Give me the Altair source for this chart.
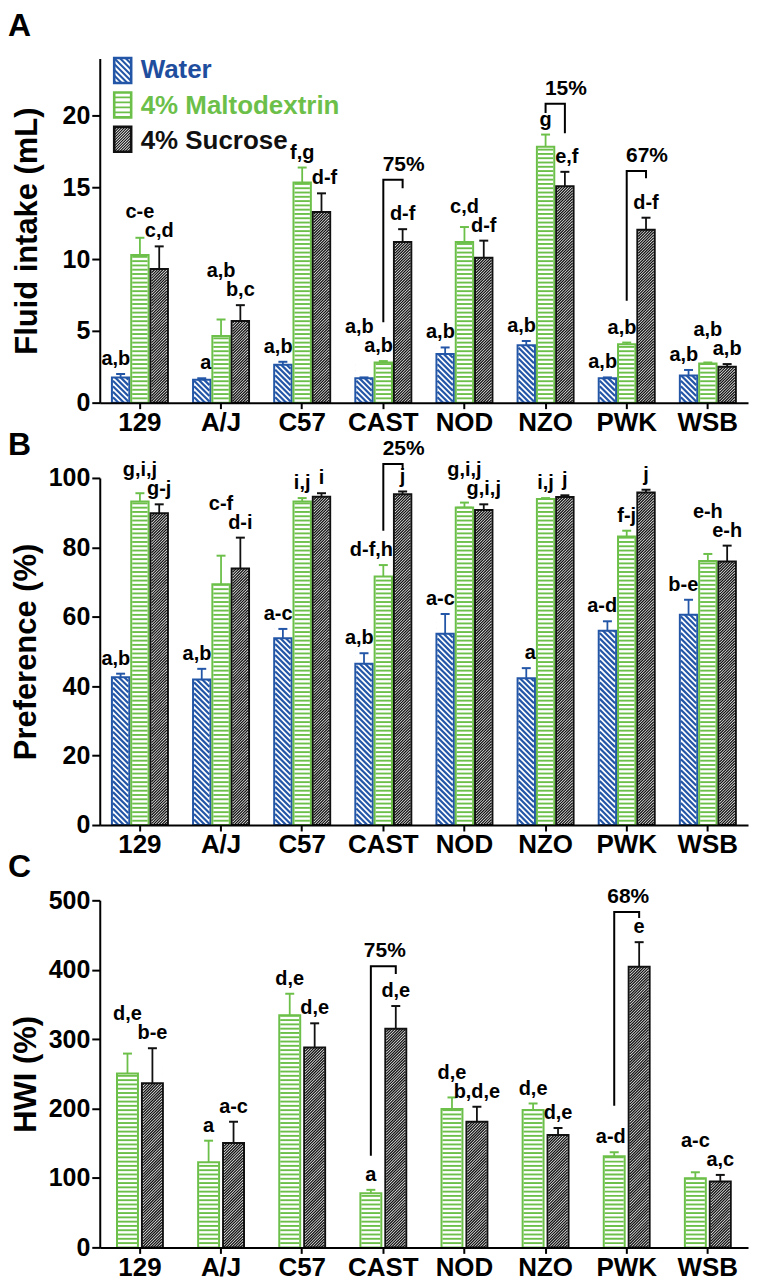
import altair as alt
import pandas as pd

# ---------------- data ----------------
STRAINS = ["129", "A/J", "C57", "CAST", "NOD", "NZO", "PWK", "WSB"]
SERIES3 = ["Water", "4% Maltodextrin", "4% Sucrose"]
SERIES2 = ["4% Maltodextrin", "4% Sucrose"]

# Panel A: fluid intake (mL)
intake_water = [1.75, 1.6, 2.65, 1.7, 3.4, 4.0, 1.7, 1.9]
intake_water_err = [0.25, 0.1, 0.2, 0.06, 0.45, 0.3, 0.06, 0.38]
intake_malt = [10.3, 4.65, 15.35, 2.8, 11.2, 17.85, 4.07, 2.73]
intake_malt_err = [1.2, 1.15, 1.05, 0.1, 1.05, 0.85, 0.12, 0.07]
intake_suc = [9.33, 5.7, 13.3, 11.2, 10.1, 15.1, 12.06, 2.5]
intake_suc_err = [1.57, 1.1, 1.3, 0.9, 1.2, 1.0, 0.84, 0.19]
intake_lab_water = ["a,b", "a", "a,b", "a,b", "a,b", "a,b", "a,b", "a,b"]
intake_lab_malt = ["c-e", "a,b", "f,g", "a,b", "c,d", "g", "a,b", "a,b"]
intake_lab_suc = ["c,d", "b,c", "d-f", "d-f", "d-f", "e,f", "d-f", "a,b"]
intake_brackets = [("CAST", 5.6, 15.55, 14.95, "75%"),
                   ("NZO", 20.2, 20.85, 18.8, "15%"),
                   ("PWK", 7.1, 16.15, 15.65, "67%")]

# Panel B: preference (%)
pref_water = [42.6, 41.9, 53.8, 46.5, 55.1, 42.3, 56.0, 60.6]
pref_water_err = [1.0, 3.1, 2.7, 3.0, 5.7, 2.9, 2.7, 4.3]
pref_malt = [93.2, 69.4, 93.2, 71.6, 91.5, 93.9, 83.1, 76.1]
pref_malt_err = [2.4, 8.2, 1.0, 3.3, 1.4, 0.3, 1.7, 2.0]
pref_suc = [89.8, 73.9, 94.6, 95.3, 90.8, 94.5, 95.8, 75.9]
pref_suc_err = [2.6, 8.9, 1.0, 0.8, 1.6, 0.5, 0.8, 4.6]
pref_lab_water = ["a,b", "a,b", "a-c", "a,b", "a-c", "a", "a-d", "b-e"]
pref_lab_malt = ["g,i,j", "c-f", "i,j", "d-f,h", "g,i,j", "i,j", "f-j", "e-h"]
pref_lab_suc = ["g-j", "d-i", "i", "j", "g,i,j", "j", "j", "e-h"]
pref_brackets = [("CAST", 84.8, 104.0, 102.6, "25%")]

# Panel C: HWI (%)
hwi_malt = [250.4, 122.6, 334.3, 78.0, 199.2, 197.8, 131.2, 99.6]
hwi_malt_err = [28.8, 31.1, 31.1, 4.9, 16.8, 9.5, 5.8, 8.6]
hwi_suc = [236.6, 150.4, 287.8, 315.1, 181.0, 161.9, 404.2, 94.8]
hwi_suc_err = [50.3, 30.6, 35.0, 32.6, 21.6, 10.1, 35.5, 9.6]
hwi_lab_malt = ["d,e", "a", "d,e", "a", "d,e", "d,e", "a-d", "a-c"]
hwi_lab_suc = ["b-e", "a-c", "d,e", "d,e", "b,d,e", "d,e", "e", "a,c"]
hwi_brackets = [("CAST", 132.0, 405.0, 394.0, "75%"),
                ("PWK", 204.0, 483.0, 474.6, "68%")]

LEGEND_LABELS = ["Water", "4% Maltodextrin", "4% Sucrose"]

# ---------------- style ----------------
BLUE = "#2356a6"
BLUE_TXT = "#1f4e9e"
GREEN = "#6cc04a"
BLACK = "#111111"
COLORS = {"Water": BLUE, "4% Maltodextrin": GREEN, "4% Sucrose": BLACK}
FONT = "Liberation Sans"
PLOT_W = 650
FS_LAB = 20
GAP, STEP = 9, 19

CW = {'a': .556, 'b': .611, 'c': .556, 'd': .611, 'e': .556, 'f': .333, 'g': .611,
      'h': .611, 'i': .278, 'j': .278, ',': .278, '-': .333}


def text_w(s, fs):
    return sum(CW.get(ch, .6) for ch in s) * fs


def band_geometry(n, x_pi, x_po, pi, po):
    step = PLOT_W / (len(STRAINS) - x_pi + 2 * x_po)
    bw = step * (1 - x_pi)
    sub = bw / (n - pi + 2 * po)
    return sub, sub * (1 - pi)


def hatch_lines(hw, hh, spacing, slope):
    parts = []
    c = -(hw + hh)
    while c <= hw + hh:
        if slope > 0:
            x1, x2 = max(-hw, -hh - c), min(hw, hh - c)
            if x2 - x1 > 0.08:
                parts.append(f"M{x1:.3f},{x1 + c:.3f}L{x2:.3f},{x2 + c:.3f}")
        else:
            x1, x2 = max(-hw, c - hh), min(hw, c + hh)
            if x2 - x1 > 0.08:
                parts.append(f"M{x1:.3f},{c - x1:.3f}L{x2:.3f},{c - x2:.3f}")
        c += spacing
    return "".join(parts)


def hlines(hw, ys):
    return "".join(f"M{-hw:.3f},{y:.3f}L{hw:.3f},{y:.3f}" for y in ys)


def panel(letter, ytitle, ymax, H, ticks, title_pad, series_list, values, errs,
          letters, brackets, pct_dx, x_pi, x_po, off_pi, legend=False):
    ppu = H / ymax
    n = len(series_list)
    sub, w = band_geometry(n, x_pi, x_po, off_pi, 0.0)
    hw_px = w - 2.0  # hatch segment width (kept inside the outline)

    # label layout (avoid overlaps)
    lab_y, anchor = {}, {}
    for j, st in enumerate(STRAINS):
        prev_pos = prev_ext = None
        for k in range(n - 1, -1, -1):
            s = series_list[k]
            p = (values[k][j] + errs[k][j]) * ppu + GAP
            c = (k - (n - 1) / 2) * sub
            tw = text_w(letters[k][j], FS_LAB)
            if s == "Water":
                a = "right"
            else:
                a = "center"
                if k < n - 1 and tw / 2 > sub - w / 2 and values[k + 1][j] * ppu > p - 4:
                    a = "right"
                elif k > 0 and tw / 2 > sub - w / 2 and values[k - 1][j] * ppu > p - 4:
                    a = "left"
            if a == "right":
                x0, x1 = c + w / 2 + 1 - tw, c + w / 2 + 1
            elif a == "left":
                x0, x1 = c - w / 2 - 1, c - w / 2 - 1 + tw
            else:
                x0, x1 = c - tw / 2, c + tw / 2
            if prev_pos is not None:
                if x1 > prev_ext[0] + 1 and x0 < prev_ext[1] - 1 and abs(p - prev_pos) < STEP:
                    p = prev_pos + STEP
            lab_y[(st, s)] = p / ppu
            anchor[(st, s)] = a
            prev_pos, prev_ext = p, (x0, x1)

    rows = []
    for k, s in enumerate(series_list):
        for j, st in enumerate(STRAINS):
            rows.append(dict(strain=st, series=s, value=values[k][j], err=errs[k][j],
                             etop=values[k][j] + errs[k][j], label=letters[k][j],
                             lab_y=lab_y[(st, s)], anchor=anchor[(st, s)]))
    df = pd.DataFrame(rows)

    xaxis = alt.Axis(title=None, labelAngle=0, tickSize=6, tickWidth=2, domainWidth=2,
                     domainColor="black", tickColor="black", labelFontSize=26,
                     labelFontWeight="bold", labelColor="black", labelPadding=1,
                     grid=False, zindex=1, labelFont=FONT)
    yaxis = alt.Axis(title=ytitle, values=ticks, tickSize=8, tickWidth=2, domainWidth=2,
                     domainColor="black", tickColor="black", labelFontSize=25,
                     labelFontWeight="bold", labelColor="black", labelPadding=2,
                     titleFontSize=31, titleFontWeight="bold", titleColor="black",
                     titlePadding=title_pad, grid=False, zindex=1, labelFont=FONT,
                     titleFont=FONT)
    xs = alt.Scale(type="band", domain=STRAINS, paddingInner=x_pi, paddingOuter=x_po)
    xos = alt.Scale(type="band", domain=series_list, paddingInner=off_pi, paddingOuter=0)
    ys = alt.Scale(domain=[0, ymax], nice=False, zero=True)
    cs = alt.Scale(domain=SERIES3, range=[COLORS[s] for s in SERIES3])

    def X():
        return alt.X("strain:N", scale=xs, axis=xaxis, sort=STRAINS)

    def XO(field="series:N"):
        return alt.XOffset(field, scale=xos, sort=series_list)

    def Y(field):
        return alt.Y(field, type="quantitative", scale=ys, axis=yaxis)

    base = alt.Chart(df)
    half = (hw_px / 2) / ppu
    layers = []

    # white bar bodies
    layers.append(
        base.mark_bar(color="white", opacity=1)
        .encode(x=X(), xOffset=XO(), y=Y("value"))
    )
    # hatching
    if "Water" in series_list:
        layers.append(
            base.transform_filter(alt.datum.series == "Water")
            .transform_calculate(hy=f"sequence(-{half}, datum.value + {half}, {5.5 / ppu})")
            .transform_flatten(["hy"])
            .mark_point(shape="M-1,-1L1,1", size=hw_px * hw_px, filled=False, color=BLUE,
                        strokeWidth=2.2, opacity=1, clip=True)
            .encode(x=X(), xOffset=XO(), y=Y("hy"))
        )
    layers.append(
        base.transform_filter(alt.datum.series == "4% Sucrose")
        .transform_calculate(hy=f"sequence(-{half}, datum.value + {half}, {2.8 / ppu})")
        .transform_flatten(["hy"])
        .mark_point(shape="M-1,1L1,-1", size=hw_px * hw_px, filled=False, color=BLACK,
                    strokeWidth=1.3, opacity=1, clip=True)
        .encode(x=X(), xOffset=XO(), y=Y("hy"))
    )
    layers.append(
        base.transform_filter(alt.datum.series == "4% Maltodextrin")
        .transform_calculate(hy=f"sequence({4.3 / ppu}, datum.value, {4.3 / ppu})")
        .transform_flatten(["hy"])
        .mark_tick(orient="horizontal", thickness=1.9, size=w - 2, color=GREEN, opacity=1)
        .encode(x=X(), xOffset=XO(), y=Y("hy"))
    )
    # white masks above hatched bars
    layers.append(
        base.transform_filter(alt.datum.series != "4% Maltodextrin")
        .transform_calculate(mtop=f"datum.value + {(hw_px + 3) / ppu}")
        .mark_bar(color="white", opacity=1)
        .encode(x=X(), xOffset=XO(), y=Y("value"), y2="mtop:Q")
    )
    # outlines
    layers.append(
        base.mark_bar(filled=False, strokeWidth=2, opacity=1)
        .encode(x=X(), xOffset=XO(), y=Y("value"),
                color=alt.Color("series:N", scale=cs, legend=None))
    )
    # error bars
    layers.append(
        base.mark_rule(strokeWidth=1.8)
        .encode(x=X(), xOffset=XO(), y=Y("value"), y2="etop:Q",
                color=alt.Color("series:N", scale=cs, legend=None))
    )
    layers.append(
        base.mark_tick(orient="horizontal", thickness=2, size=9, opacity=1)
        .encode(x=X(), xOffset=XO(), y=Y("etop"),
                color=alt.Color("series:N", scale=cs, legend=None))
    )
    # letter labels
    for a, dx in (("right", w / 2 + 1), ("center", 0), ("left", -(w / 2 + 1))):
        layers.append(
            base.transform_filter(alt.datum.anchor == a)
            .mark_text(align=a, dx=dx, baseline="alphabetic", fontSize=FS_LAB,
                       fontWeight="bold", color="black", font=FONT)
            .encode(x=X(), xOffset=XO(), y=Y("lab_y"), text="label:N")
        )
    # brackets
    brows, prows = [], []
    for i, (st, lb, top, rb, pct) in enumerate(brackets):
        brows += [dict(bid=i, strain=st, series="4% Maltodextrin", by=lb, o=0),
                  dict(bid=i, strain=st, series="4% Maltodextrin", by=top, o=1),
                  dict(bid=i, strain=st, series="4% Sucrose", by=top, o=2),
                  dict(bid=i, strain=st, series="4% Sucrose", by=rb, o=3)]
        prows.append(dict(strain=st, series="4% Sucrose", by=top, pct=pct))
    layers.append(
        alt.Chart(pd.DataFrame(brows)).mark_line(color="black", strokeWidth=2)
        .encode(x=X(), xOffset=XO(), y=Y("by"), detail="bid:N", order="o:Q")
    )
    layers.append(
        alt.Chart(pd.DataFrame(prows))
        .mark_text(align="center", dx=pct_dx, dy=-9, baseline="alphabetic", fontSize=21,
                   fontWeight="bold", color="black", font=FONT)
        .encode(x=X(), xOffset=XO(), y=Y("by"), text="pct:N")
    )

    if legend:
        ldf = pd.DataFrame({"series": SERIES3, "label": LEGEND_LABELS})
        hw, hh = 0.68, 1.0
        rect = f"M{-hw},{-hh}L{hw},{-hh}L{hw},{hh}L{-hw},{hh}Z"
        inner = {
            "Water": (hatch_lines(hw, hh, 0.46, 1), 2.0),
            "4% Maltodextrin": (hlines(hw, [-0.6, -0.2, 0.2, 0.6]), 1.8),
            "4% Sucrose": (hatch_lines(hw, hh, 0.22, -1), 1.2),
        }
        txtcol = {"Water": BLUE_TXT, "4% Maltodextrin": GREEN, "4% Sucrose": BLACK}
        sw_y = [12, 46.5, 81]
        tx_y = [19, 56, 91]
        for i, s in enumerate(SERIES3):
            lc = alt.Chart(ldf).transform_filter(alt.datum.series == s)
            layers.append(lc.mark_point(shape=inner[s][0], size=625, filled=False,
                                        color=COLORS[s], strokeWidth=inner[s][1], opacity=1)
                          .encode(x=alt.value(23), y=alt.value(sw_y[i])))
            layers.append(lc.mark_point(shape=rect, size=625, filled=False,
                                        color=COLORS[s], strokeWidth=2.6, opacity=1)
                          .encode(x=alt.value(23), y=alt.value(sw_y[i])))
            layers.append(lc.mark_text(align="left", baseline="alphabetic", fontSize=26,
                                       fontWeight="bold", color=txtcol[s], font=FONT)
                          .encode(x=alt.value(41), y=alt.value(tx_y[i]), text="label:N"))

    # panel letter
    layers.append(
        alt.Chart(pd.DataFrame({"panel": [letter]}))
        .mark_text(align="left", baseline="alphabetic", fontSize=32, fontWeight="bold",
                   color="black", font=FONT)
        .encode(x=alt.value(-92), y=alt.value(-23), text="panel:N")
    )

    return alt.layer(*layers).properties(width=PLOT_W, height=H)


# x band paddings: same category centres in every panel
XA_PI, XA_PO = 0.31, 0.15
XC_PI, XC_PO = 0.4345, 0.2127

pA = panel("A", "Fluid intake (mL)", 24, 345, [0, 5, 10, 15, 20], 19, SERIES3,
           [intake_water, intake_malt, intake_suc],
           [intake_water_err, intake_malt_err, intake_suc_err],
           [intake_lab_water, intake_lab_malt, intake_lab_suc],
           intake_brackets, 1, XA_PI, XA_PO, 0.1, legend=True)
pB = panel("B", "Preference (%)", 100, 348, [0, 20, 40, 60, 80, 100], 6, SERIES3,
           [pref_water, pref_malt, pref_suc],
           [pref_water_err, pref_malt_err, pref_suc_err],
           [pref_lab_water, pref_lab_malt, pref_lab_suc],
           pref_brackets, 1, XA_PI, XA_PO, 0.1)
pC = panel("C", "HWI (%)", 500, 348, [0, 100, 200, 300, 400, 500], 6, SERIES2,
           [hwi_malt, hwi_suc], [hwi_malt_err, hwi_suc_err],
           [hwi_lab_malt, hwi_lab_suc],
           hwi_brackets, -11, XC_PI, XC_PO, 0.16)

chart = (
    alt.vconcat(pA, pB, pC, spacing=75.5, bounds="flush")
    .resolve_scale(x="independent", xOffset="independent", y="independent",
                   color="independent")
    .properties(padding={"left": 0, "top": 0, "right": 4, "bottom": 0})
    .configure(font=FONT)
    .configure_view(stroke=None)
)

chart.save("out.html", embed_options={"renderer": "svg", "actions": False})
